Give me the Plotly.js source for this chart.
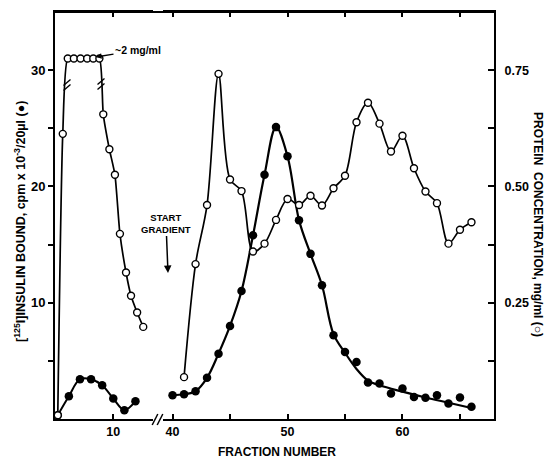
<!DOCTYPE html>
<html>
<head>
<meta charset="utf-8">
<script src="https://cdn.plot.ly/plotly-3.0.1.min.js"></script>
<style>html,body{margin:0;padding:0;background:#fff;}#chart{width:548px;height:458px;}</style>
</head>
<body>
<div id="chart"></div>
<script>
// ---- data ----
// Insulin bound (filled circles), cpm x 10^-3 / 20 µl
const fracLeftFilled = [5, 6, 7, 8, 9, 10, 11, 12];
const insulinLeft = [0.33, 1.96, 3.42, 3.42, 2.9, 1.76, 0.76, 1.53];
const fracRightFilled = [40, 41, 42, 43, 44, 45, 46, 47, 48, 49, 50, 51, 52, 53, 54, 55, 56, 57, 58, 59, 60, 61, 62, 63, 64, 65, 66];
const insulinRight = [2.04, 2.13, 2.39, 3.54, 5.62, 8.0, 11.0, 15.8, 21.0, 25.1, 22.6, 17.1, 14.2, 11.5, 7.2, 5.77, 4.9, 3.13, 3.05, 2.19, 2.62, 1.9, 1.82, 2.04, 1.33, 1.85, 1.05];
// drawn (smoothed) curve through the insulin points
const fracFitRight = [40, 41, 42, 43, 44, 45, 46, 47, 48, 49, 50, 51, 52, 53, 54, 55, 56, 57, 58, 60, 62, 64, 66];
const insulinFitRight = [2.04, 2.13, 2.39, 3.54, 5.62, 8.0, 11.0, 15.8, 21.0, 25.1, 22.6, 17.1, 14.2, 11.5, 7.3, 5.7, 4.3, 3.3, 2.9, 2.35, 1.85, 1.4, 0.95];
// Protein concentration (open circles), mg/ml (plateau drawn off-scale, ~2 mg/ml)
const fracLeftOpen = [5.0, 5.45, 5.9, 6.45, 7.05, 7.65, 8.2, 8.75, 9.1, 9.65, 10.15, 10.6, 11.15, 11.6, 12.15, 12.7];
const proteinLeft = [0.008, 0.613, 0.775, 0.775, 0.775, 0.775, 0.775, 0.775, 0.655, 0.58, 0.525, 0.398, 0.315, 0.265, 0.229, 0.198];
const fracRightOpen = [41, 42, 43, 44, 45, 46, 47, 48, 49, 50, 51, 52, 53, 54, 55, 56, 57, 58, 59, 60, 61, 62, 63, 64, 65, 66];
const proteinRight = [0.09, 0.333, 0.46, 0.742, 0.515, 0.49, 0.36, 0.377, 0.428, 0.473, 0.46, 0.48, 0.459, 0.496, 0.523, 0.638, 0.68, 0.635, 0.575, 0.609, 0.539, 0.489, 0.464, 0.377, 0.407, 0.423];
// tick labels and minor tick positions
const leftTickVals = [10, 20, 30];
const leftMinorVals = [5, 15, 25];
const rightTickVals = [0.25, 0.5, 0.75];
const rightTickText = ['0.25', '0.50', '0.75'];
const rightMinorVals = [0.125, 0.375, 0.625];
const xLeftTickVals = [10];
const xRightTickVals = [40, 50, 60];
const xRightMinorVals = [45, 55, 65];

// ---- layout helpers ----
const W = 548, H = 458, L = 55, R = 54, T = 12, B = 39;
const PW = W - L - R, PH = H - T - B;
const px = x => (x - L) / PW;
const py = y => (H - B - y) / PH;
const FONT = 'Liberation Sans, Arial, sans-serif';

const openMarker = {symbol: 'circle', size: 7, color: '#fff', line: {color: '#000', width: 1.4}};
const filledMarker = {symbol: 'circle', size: 8.5, color: '#000'};

const traces = [
  {x: fracLeftOpen, y: proteinLeft, xaxis: 'x', yaxis: 'y2', mode: 'lines+markers',
   line: {color: '#000', width: 1.7, shape: 'spline', smoothing: 0.6}, marker: openMarker, hoverinfo: 'skip'},
  {x: fracRightOpen, y: proteinRight, xaxis: 'x2', yaxis: 'y2', mode: 'lines+markers',
   line: {color: '#000', width: 1.7, shape: 'spline', smoothing: 0.9}, marker: openMarker, hoverinfo: 'skip'},
  {x: fracLeftFilled, y: insulinLeft, xaxis: 'x', yaxis: 'y', mode: 'lines+markers',
   line: {color: '#000', width: 2, shape: 'spline', smoothing: 1}, marker: filledMarker, hoverinfo: 'skip'},
  {x: fracFitRight, y: insulinFitRight, xaxis: 'x2', yaxis: 'y', mode: 'lines',
   line: {color: '#000', width: 2.2, shape: 'spline', smoothing: 1}, hoverinfo: 'skip'},
  {x: fracRightFilled, y: insulinRight, xaxis: 'x2', yaxis: 'y', mode: 'markers',
   marker: filledMarker, hoverinfo: 'skip'}
];

function brk(cx, cy, gap, hw, hh) {
  return [-gap / 2, gap / 2].map(o => ({
    type: 'line', xref: 'paper', yref: 'paper',
    x0: px(cx + o - hw), y0: py(cy + hh), x1: px(cx + o + hw), y1: py(cy - hh),
    line: {color: '#000', width: 1.5}
  }));
}
function brkV(cx, cy, gap, hw, hh) {
  return [-gap / 2, gap / 2].map(o => ({
    type: 'line', xref: 'paper', yref: 'paper',
    x0: px(cx - hw), y0: py(cy + o + hh), x1: px(cx + hw), y1: py(cy + o - hh),
    line: {color: '#000', width: 1.4}
  }));
}

const tickFont = {family: FONT, size: 13, color: '#000', weight: 'bold'};
const axisCommon = {showgrid: false, zeroline: false, showline: true, linecolor: '#000', linewidth: 2,
  tickcolor: '#000', tickwidth: 2, tickfont: tickFont, fixedrange: true};

const layout = {
  width: W, height: H,
  margin: {l: L, r: R, t: T, b: B, pad: 0},
  paper_bgcolor: '#fff', plot_bgcolor: '#fff',
  showlegend: false,
  xaxis: Object.assign({}, axisCommon, {domain: [0, (153 - L) / PW], range: [4.75, 13.58], anchor: 'y',
    tickmode: 'array', tickvals: xLeftTickVals, ticks: 'inside', ticklen: 5, mirror: 'ticks',
    tickfont: Object.assign({}, tickFont, {size: 12.5})}),
  xaxis2: Object.assign({}, axisCommon, {domain: [(163 - L) / PW, 1], range: [39.17, 67.96], anchor: 'y',
    tickmode: 'array', tickvals: xRightTickVals, ticks: 'inside', ticklen: 5, mirror: 'ticks',
    minor: {tickmode: 'array', tickvals: xRightMinorVals, ticks: 'inside', ticklen: 5, tickwidth: 2, tickcolor: '#000'},
    tickfont: Object.assign({}, tickFont, {size: 12.5})}),
  yaxis: Object.assign({}, axisCommon, {range: [0, 35], anchor: 'x', tickmode: 'array',
    tickvals: leftTickVals, ticks: 'outside', ticklen: 5,
    minor: {tickmode: 'array', tickvals: leftMinorVals, ticks: 'outside', ticklen: 5, tickwidth: 2, tickcolor: '#000'}}),
  yaxis2: Object.assign({}, axisCommon, {range: [0, 0.875], overlaying: 'y', side: 'right', anchor: 'x2',
    tickmode: 'array', tickvals: rightTickVals, ticktext: rightTickText, ticks: 'inside', ticklen: 6,
    minor: {tickmode: 'array', tickvals: rightMinorVals, ticks: 'inside', ticklen: 6, tickwidth: 2, tickcolor: '#000'},
    ticklabelstandoff: 6, tickfont: Object.assign({}, tickFont, {size: 12.5})}),
  shapes: [
    {type: 'line', xref: 'paper', yref: 'paper', x0: 0, x1: 1, y0: 1, y1: 1, line: {color: '#000', width: 2}},
    ...brk(157.5, 419.5, 5, 2.8, 5.5),
    ...brkV(67, 85, 5, 3.5, 3),
    ...brkV(101, 84, 5, 3.5, 3)
  ],
  annotations: [
    {xref: 'paper', yref: 'paper', x: px(20), y: py(222), text: '[<sup>125</sup>I]INSULIN BOUND, cpm x 10<sup>-3</sup>/20µl (●)',
     textangle: -90, showarrow: false, xanchor: 'center', yanchor: 'middle',
     font: {family: FONT, size: 12.5, color: '#000', weight: 'bold'}},
    {xref: 'paper', yref: 'paper', x: px(538), y: py(224), text: 'PROTEIN  CONCENTRATION, mg/ml (○)',
     textangle: 90, showarrow: false, xanchor: 'center', yanchor: 'middle',
     font: {family: FONT, size: 12, color: '#000', weight: 'bold'}},
    {xref: 'paper', yref: 'paper', x: px(277), y: py(452), text: 'FRACTION NUMBER',
     showarrow: false, xanchor: 'center', yanchor: 'middle',
     font: {family: FONT, size: 12, color: '#000', weight: 'bold'}},
    {xref: 'paper', yref: 'paper', x: px(168), y: py(273), text: 'START<br>GRADIENT',
     showarrow: true, ax: -2, ay: -50, arrowhead: 2, arrowsize: 1, arrowwidth: 1.5, arrowcolor: '#000',
     font: {family: FONT, size: 9.5, color: '#000', weight: 'bold'}},
    {xref: 'paper', yref: 'paper', x: px(96), y: py(57), text: '~2 mg/ml',
     showarrow: true, ax: 42, ay: -7, arrowhead: 2, arrowsize: 0.8, arrowwidth: 1.4, arrowcolor: '#000',
     font: {family: FONT, size: 10.5, color: '#000', weight: 'bold'}}
  ]
};

Plotly.newPlot('chart', traces, layout, {displayModeBar: false, staticPlot: true});
</script>
</body>
</html>
